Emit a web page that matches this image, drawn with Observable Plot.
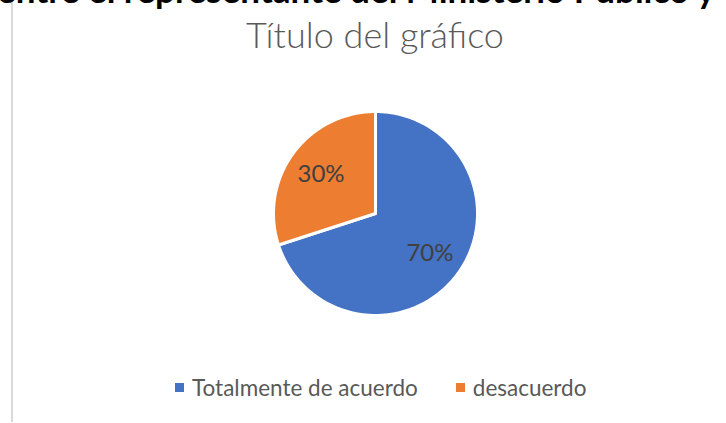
<!DOCTYPE html>
<html>
<head>
<meta charset="utf-8">
<script src="https://cdn.jsdelivr.net/npm/d3@7"></script>
<script src="https://cdn.jsdelivr.net/npm/@observablehq/plot@0.6"></script>
<style>
  html, body { margin: 0; padding: 0; background: #fff; }
  #wrap { position: relative; width: 726px; height: 423px; overflow: hidden; background: #fff; font-family: Lato, "Open Sans", sans-serif; }
  #border { position: absolute; left: 11px; top: 0; width: 2px; height: 422px; background: #d9d9d9; }
  #toptext { position: absolute; left: -3px; top: -28px; font-size: 35px; line-height: 35px; font-weight: 700; color: #000; white-space: nowrap; }
  #title { position: absolute; left: 0; width: 750px; text-align: center; top: 16px; font-size: 36px; line-height: 36px; font-weight: 300; color: #595959; white-space: nowrap; }
  #chart { position: absolute; left: 0; top: 0; }
  #legend { position: absolute; left: 175px; top: 374px; }
</style>
</head>
<body>
<div id="wrap">
  <div id="border"></div>
  <div id="toptext"></div>
  <div id="title"></div>
  <div id="chart"></div>
  <div id="legend"></div>
</div>
<script>
const headerText = "entre el representante del Ministerio Público y el";
const chartTitle = "Título del gráfico";
const categories = ["Totalmente de acuerdo", "desacuerdo"];
const values = [70, 30];
const colors = ["#4472C4", "#ED7D31"];

document.getElementById("toptext").textContent = headerText;
document.getElementById("title").textContent = chartTitle;

const total = d3.sum(values);
const arcs = d3.pie().sort(null)(values);

// sector outlines in unit coordinates (y up), angle clockwise from 12 o'clock
const sectorPts = [];
arcs.forEach((a, i) => {
  const n = Math.max(2, Math.ceil((a.endAngle - a.startAngle) / (Math.PI / 180)));
  sectorPts.push({cat: categories[i], x: 0, y: 0});
  for (let k = 0; k <= n; k++) {
    const t = a.startAngle + (a.endAngle - a.startAngle) * k / n;
    sectorPts.push({cat: categories[i], x: Math.sin(t), y: Math.cos(t)});
  }
  sectorPts.push({cat: categories[i], x: 0, y: 0});
});

const labels = arcs.map((a, i) => {
  const m = (a.startAngle + a.endAngle) / 2;
  return {cat: categories[i], x: 0.66 * Math.sin(m), y: 0.66 * Math.cos(m), text: Math.round(values[i] / total * 100) + "%"};
});

const cx = 375, cy = 213, r = 102;

const chart = Plot.plot({
  width: 726,
  height: 423,
  margin: 0,
  style: {background: "transparent", overflow: "visible"},
  x: {domain: [-1, 1], range: [cx - r, cx + r], axis: null},
  y: {domain: [-1, 1], range: [cy + r, cy - r], axis: null},
  color: {domain: categories, range: colors},
  marks: [
    Plot.line(sectorPts, {x: "x", y: "y", z: "cat", fill: "cat", stroke: "white", strokeWidth: 3, strokeLinejoin: "round", curve: "linear"}),
    Plot.text(labels, {x: "x", y: "y", text: "text", fill: "#404040", fontSize: 24, fontFamily: "Lato, 'Open Sans', sans-serif"})
  ]
});
document.getElementById("chart").appendChild(chart);

const legend = Plot.legend({
  color: {domain: categories, range: colors},
  swatchSize: 9,
  className: "lg",
  style: {fontSize: "22.5px", fontFamily: "Lato, 'Open Sans', sans-serif", color: "#595959", background: "transparent"}
});
document.getElementById("legend").appendChild(legend);
const st = document.createElement("style");
st.textContent = `
  .lg-swatch { margin-right: 38px !important; }
  .lg-swatch > svg { margin-right: 8px !important; }
  .lg-swatches { margin: 0 !important; min-height: 0 !important; }
`;
document.head.appendChild(st);
</script>
</body>
</html>
